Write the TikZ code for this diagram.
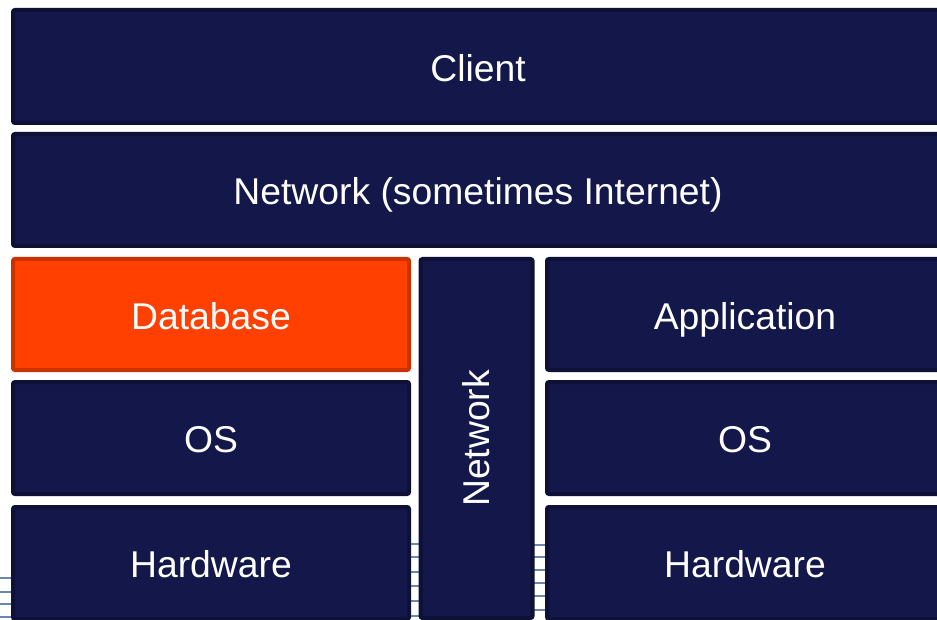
\documentclass[tikz,border=0pt]{standalone}
\usepackage{fontspec}
\setmainfont{Liberation Sans}
\definecolor{navyfill}{HTML}{13174A}
\definecolor{navyedge}{HTML}{0E1135}
\definecolor{dbfill}{HTML}{FF4000}
\definecolor{dbedge}{HTML}{C83300}
\definecolor{wave}{HTML}{6A86B8}
\tikzset{
  label text/.style={text=white, font=\fontsize{37.3}{44}\selectfont,
    text height=29.5pt, text depth=0pt},
  layer/.style={draw=navyedge, fill=navyfill, line width=4pt, rounded corners=2pt,
    label text, inner sep=0pt},
  dblayer/.style={layer, draw=dbedge, fill=dbfill},
  waveline/.style={draw=wave, line width=1.2pt}
}
\begin{document}
\begin{tikzpicture}[x=1pt,y=-1pt]
\useasboundingbox (0,0) rectangle (937,620);
\fill[white] (0,0) rectangle (937,620);

% faint background lines showing through the gaps
\foreach \yy in {578,592,604,617} \draw[waveline] (0,\yy) -- (20,\yy);
\foreach \yy in {544,557,572,586,601,616} \draw[waveline] (404,\yy) -- (425,\yy);
\foreach \yy in {545,557,570,583,596,610} \draw[waveline, draw=wave!80!gray] (528,\yy) -- (552,\yy);

% stacked layers
\node[layer, minimum width=930pt, minimum height=113pt] (client) at (478,66.5) {Client};
\node[layer, minimum width=930pt, minimum height=112pt] (net) at (478,190) {Network (sometimes Internet)};

\node[dblayer, minimum width=396pt, minimum height=111pt] (db) at (211,314.5) {Database};
\node[layer, minimum width=396pt, minimum height=112pt] (osl) at (211,438) {OS};
\node[layer, minimum width=396pt, minimum height=112pt] (hwl) at (211,563) {Hardware};

\node[layer, minimum width=112pt, minimum height=359pt] (netv) at (476.5,438.5) {};
\node[label text, text height=26.7pt, rotate=90] (netlabel) at (netv.center) {Network};

\node[layer, minimum width=396pt, minimum height=111pt] (app) at (745,314.5) {Application};
\node[layer, minimum width=396pt, minimum height=112pt] (osr) at (745,438) {OS};
\node[layer, minimum width=396pt, minimum height=112pt] (hwr) at (745,563) {Hardware};
\end{tikzpicture}
\end{document}
